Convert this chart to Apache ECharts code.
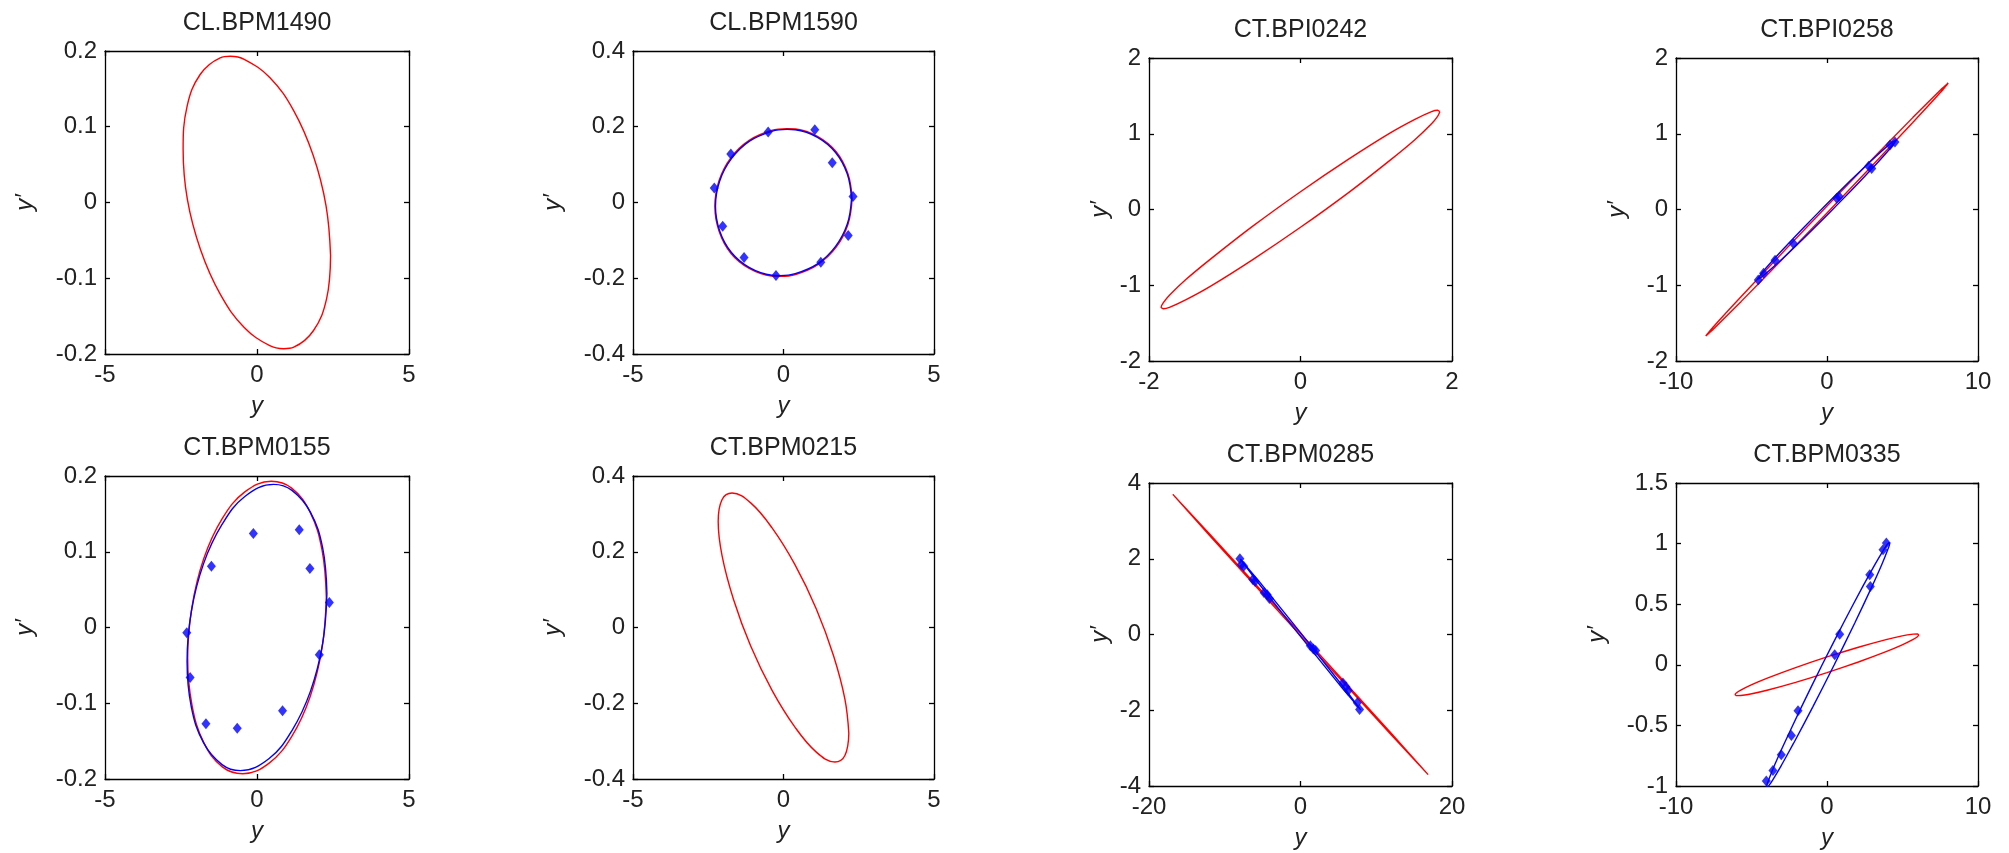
<!DOCTYPE html>
<html>
<head>
<meta charset="utf-8">
<script src="https://cdn.jsdelivr.net/npm/echarts@6/dist/echarts.min.js"></script>
<style>html,body{margin:0;padding:0;background:#fff}#c{width:2009px;height:853px}</style>
</head>
<body>
<div id="c"></div>
<script>
// ---------- titles & axis ranges (min, max, interval) ----------
const titles = ['CL.BPM1490','CL.BPM1590','CT.BPI0242','CT.BPI0258','CT.BPM0155','CT.BPM0215','CT.BPM0285','CT.BPM0335'];
const xRanges = [[-5,5,5],[-5,5,5],[-2,2,2],[-10,10,10],[-5,5,5],[-5,5,5],[-20,20,20],[-10,10,10]];
const yRanges = [[-0.2,0.2,0.1],[-0.4,0.4,0.2],[-2,2,1],[-2,2,1],[-0.2,0.2,0.1],[-0.4,0.4,0.2],[-4,4,2],[-1,1.5,0.5]];

// ---------- data ----------
const red1490 = [[2.42,-0.07],[2.27,-0.004],[1.85,0.062],[1.21,0.121],[0.42,0.165],[-0.42,0.189],[-0.88,0.193],[-1.21,0.191],[-1.87,0.169],[-2.30,0.127],[-2.43,0.07],[-2.29,0.004],[-1.86,-0.062],[-1.21,-0.121],[-0.42,-0.165],[0.42,-0.189],[0.88,-0.193],[1.21,-0.191],[1.86,-0.169],[2.29,-0.127],[2.42,-0.07]];

const red1590 = [[2.28,0.01],[2.14,0.076],[1.75,0.134],[1.14,0.174],[0.40,0.194],[0.12,0.195],[-0.40,0.190],[-1.14,0.164],[-1.75,0.118],[-2.14,0.058],[-2.28,-0.01],[-2.14,-0.076],[-1.75,-0.134],[-1.14,-0.174],[-0.40,-0.194],[-0.12,-0.195],[0.40,-0.190],[1.14,-0.164],[1.75,-0.118],[2.14,-0.058],[2.28,0.01]];
const blue1590 = [[2.26,0.01],[2.12,0.075],[1.73,0.132],[1.13,0.172],[0.39,0.192],[0.12,0.193],[-0.39,0.188],[-1.13,0.162],[-1.73,0.116],[-2.12,0.057],[-2.26,-0.01],[-2.12,-0.075],[-1.73,-0.132],[-1.13,-0.172],[-0.39,-0.192],[-0.12,-0.193],[0.39,-0.188],[1.13,-0.162],[1.73,-0.116],[2.12,-0.057],[2.26,0.01]];
const pts1590 = [[-0.51,0.186],[1.04,0.192],[-1.75,0.128],[1.62,0.105],[-2.30,0.038],[2.31,0.016],[-2.02,-0.063],[2.15,-0.087],[-1.31,-0.145],[1.24,-0.158],[-0.25,-0.193]];

const red0242 = [[1.84,1.29],[1.81,1.311],[1.73,1.293],[1.51,1.191],[1.18,1.009],[0.63,0.662],[0,0.235],[-0.63,-0.220],[-1.18,-0.649],[-1.51,-0.922],[-1.73,-1.132],[-1.81,-1.229],[-1.84,-1.29],[-1.81,-1.311],[-1.73,-1.293],[-1.51,-1.191],[-1.18,-1.009],[-0.63,-0.662],[0,-0.235],[0.63,0.220],[1.18,0.649],[1.51,0.922],[1.73,1.132],[1.81,1.229],[1.84,1.29]];

const red0258 = [[8.03,1.67],[7.55,1.584],[5.68,1.213],[2.75,0.613],[0,0.045],[-2.75,-0.529],[-5.68,-1.149],[-7.55,-1.554],[-8.03,-1.67],[-7.55,-1.584],[-5.68,-1.213],[-2.75,-0.613],[0,-0.045],[2.75,0.529],[5.68,1.149],[7.55,1.554],[8.03,1.67]];
const blue0258 = [[4.60,0.92],[4.32,0.890],[3.25,0.704],[1.57,0.385],[0,0.075],[-1.57,-0.244],[-3.25,-0.598],[-4.32,-0.839],[-4.60,-0.92],[-4.32,-0.890],[-3.25,-0.704],[-1.57,-0.385],[0,-0.075],[1.57,0.244],[3.25,0.598],[4.32,0.839],[4.60,0.92]];
const pts0258 = [[-4.55,-0.93],[-4.20,-0.84],[-3.44,-0.67],[-2.23,-0.45],[0.64,0.15],[0.80,0.17],[2.76,0.57],[2.96,0.54],[4.17,0.85],[4.50,0.89]];

const red0155 = [[2.28,0.04],[2.14,0.102],[1.75,0.152],[1.14,0.184],[0.47,0.193],[-0.40,0.179],[-1.14,0.144],[-1.75,0.091],[-2.14,0.027],[-2.28,-0.04],[-2.14,-0.102],[-1.75,-0.152],[-1.14,-0.184],[-0.47,-0.193],[0.40,-0.179],[1.14,-0.144],[1.75,-0.091],[2.14,-0.027],[2.28,0.04]];
const blue0155 = [[2.30,0.045],[2.16,0.105],[1.76,0.152],[1.15,0.181],[0.55,0.189],[-0.40,0.173],[-1.15,0.136],[-1.76,0.084],[-2.16,0.021],[-2.30,-0.045],[-2.16,-0.105],[-1.76,-0.152],[-1.15,-0.181],[-0.55,-0.189],[0.40,-0.173],[1.15,-0.136],[1.76,-0.084],[2.16,-0.021],[2.30,0.045]];
const pts0155 = [[-0.12,0.124],[1.39,0.129],[-1.50,0.081],[1.74,0.078],[2.38,0.033],[-2.31,-0.007],[2.05,-0.036],[-2.20,-0.066],[0.84,-0.110],[-1.68,-0.127],[-0.65,-0.133]];

const red0215 = [[2.17,-0.28],[2.04,-0.189],[1.66,-0.074],[1.09,0.049],[0.38,0.166],[-0.38,0.263],[-1.09,0.329],[-1.71,0.355],[-2.04,0.338],[-2.17,0.28],[-2.04,0.189],[-1.66,0.074],[-1.09,-0.049],[-0.38,-0.166],[0.38,-0.263],[1.09,-0.329],[1.71,-0.355],[2.04,-0.338],[2.17,-0.28]];

const red0285 = [[16.85,-3.70],[11.91,-2.595],[0,0.03],[-11.91,2.637],[-16.85,3.70],[-11.91,2.595],[0,-0.03],[11.91,-2.637],[16.85,-3.70]];
const blue0285 = [[7.95,-1.99],[5.62,-1.372],[0,0.05],[-5.62,1.442],[-7.95,1.99],[-5.62,1.372],[0,-0.05],[5.62,-1.442],[7.95,-1.99]];
const pts0285 = [[-8.0,2.0],[-7.8,1.85],[-7.5,1.80],[-6.3,1.45],[-6.0,1.40],[-4.8,1.10],[-4.4,1.05],[-4.1,0.95],[1.3,-0.30],[1.7,-0.38],[2.0,-0.42],[5.6,-1.28],[6.0,-1.38],[6.3,-1.48],[7.5,-1.80],[7.8,-1.98]];

const red0335 = [[6.08,0.246],[5.99,0.254],[5.71,0.253],[4.98,0.239],[3.91,0.208],[2.08,0.145],[0,0.065],[-2.08,-0.023],[-3.91,-0.108],[-4.98,-0.164],[-5.71,-0.209],[-5.99,-0.231],[-6.08,-0.246],[-5.99,-0.254],[-5.71,-0.253],[-4.98,-0.239],[-3.91,-0.208],[-2.08,-0.145],[0,-0.065],[2.08,0.023],[3.91,0.108],[4.98,0.164],[5.71,0.209],[5.99,0.231],[6.08,0.246]];
const blue0335 = [[4.13,1.01],[4.00,0.995],[3.75,0.949],[3.17,0.827],[2.38,0.649],[1.09,0.345],[-0.32,0],[-1.68,-0.345],[-2.83,-0.649],[-3.47,-0.827],[-3.86,-0.949],[-3.98,-0.995],[-3.97,-1.01],[-3.84,-0.995],[-3.59,-0.949],[-3.01,-0.827],[-2.22,-0.649],[-0.93,-0.345],[0.48,0],[1.84,0.345],[2.99,0.649],[3.63,0.827],[4.02,0.949],[4.14,0.995],[4.13,1.01]];
const pts0335 = [[3.93,1.005],[3.71,0.95],[2.83,0.743],[2.87,0.647],[0.84,0.253],[0.51,0.083],[-1.92,-0.380],[-2.36,-0.584],[-3.03,-0.743],[-3.58,-0.873],[-4.02,-0.958]];

// ---------- layout (pixels) ----------
const grids = [
  {left:105, top:51, width:304, height:303},
  {left:633, top:51, width:301, height:303},
  {left:1149, top:58, width:303, height:303},
  {left:1676, top:58, width:302, height:303},
  {left:105, top:476, width:304, height:303},
  {left:633, top:476, width:301, height:303},
  {left:1149, top:483, width:303, height:303},
  {left:1676, top:483, width:302, height:303}
];
const yNameGaps = [68,68,37,47,68,68,37,67];

const FONT = 'Liberation Sans';
const RED = '#ff0000', BLUE = '#0000ff';

const xAxes = [], yAxes = [];
grids.forEach((g, i) => {
  const [xmin,xmax,xint] = xRanges[i];
  const [ymin,ymax,yint] = yRanges[i];
  const line = {show:true, onZero:false, lineStyle:{color:'#000', width:1.3}};
  const tick = {show:true, inside:true, length:5, lineStyle:{color:'#000', width:1.3}};
  xAxes.push({type:'value', gridIndex:i, position:'bottom', min:xmin, max:xmax, interval:xint,
    axisLine:line, axisTick:tick, splitLine:{show:false},
    axisLabel:{fontFamily:FONT, fontSize:24, color:'#222', margin:9},
    name:'y', nameLocation:'middle', nameGap:40,
    nameTextStyle:{fontFamily:FONT, fontSize:24, fontStyle:'italic', color:'#222'}});
  xAxes.push({type:'value', gridIndex:i, position:'top', min:xmin, max:xmax, interval:xint,
    axisLine:line, axisTick:tick, splitLine:{show:false}, axisLabel:{show:false},
    name:titles[i], nameLocation:'middle', nameGap:15,
    nameTextStyle:{fontFamily:FONT, fontSize:25, color:'#222'}});
  yAxes.push({type:'value', gridIndex:i, position:'left', min:ymin, max:ymax, interval:yint,
    axisLine:line, axisTick:tick, splitLine:{show:false},
    axisLabel:{fontFamily:FONT, fontSize:24, color:'#222', margin:8},
    name:'y\u2032', nameLocation:'middle', nameGap:yNameGaps[i], nameRotate:90,
    nameTextStyle:{fontFamily:FONT, fontSize:24, fontStyle:'italic', color:'#222'}});
  yAxes.push({type:'value', gridIndex:i, position:'right', min:ymin, max:ymax, interval:yint,
    axisLine:line, axisTick:tick, splitLine:{show:false}, axisLabel:{show:false}});
});

function loop(i, data, color, smooth) {
  return {type:'line', xAxisIndex:2*i, yAxisIndex:2*i, data:data, showSymbol:false, symbol:'none',
    smooth: smooth, lineStyle:{color:color, width:1.4}, itemStyle:{color:color}, z:2};
}
function marks(i, data) {
  return {type:'scatter', xAxisIndex:2*i, yAxisIndex:2*i, data:data, symbol:'diamond', symbolSize:[9,11],
    itemStyle:{color:BLUE}, z:4};
}

const series = [
  loop(0, red1490, RED, 0.4),
  loop(1, red1590, RED, 0.4), loop(1, blue1590, BLUE, 0.4), marks(1, pts1590),
  loop(2, red0242, RED, 0.2),
  loop(3, red0258, RED, 0.2), loop(3, blue0258, BLUE, 0.2), marks(3, pts0258),
  loop(4, red0155, RED, 0.4), loop(4, blue0155, BLUE, 0.4), marks(4, pts0155),
  loop(5, red0215, RED, 0.4),
  loop(6, red0285, RED, false), loop(6, blue0285, BLUE, false), marks(6, pts0285),
  loop(7, red0335, RED, 0.2), loop(7, blue0335, BLUE, 0.2), marks(7, pts0335)
];

const chart = echarts.init(document.getElementById('c'), null, {renderer:'canvas'});
chart.setOption({
  backgroundColor:'#fff',
  animation:false,
  grid: grids.map(g => Object.assign({containLabel:false}, g)),
  xAxis: xAxes,
  yAxis: yAxes,
  series: series
});
</script>
</body>
</html>
